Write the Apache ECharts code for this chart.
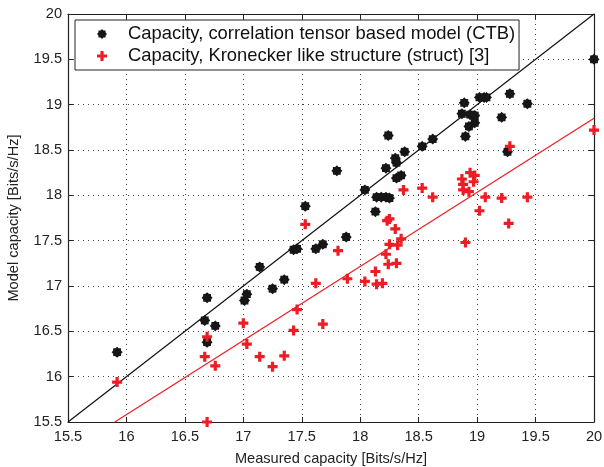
<!DOCTYPE html>
<html>
<head>
<meta charset="utf-8">
<script src="https://cdn.jsdelivr.net/npm/echarts@6/dist/echarts.min.js"></script>
<style>
  html, body { margin: 0; padding: 0; background: #fff; }
  #chart { width: 604px; height: 467px; }
</style>
</head>
<body>
<div id="chart"></div>
<script>
// measured capacity vs model capacity [Bits/s/Hz]
const ctbX = [15.92, 16.69, 16.67, 16.76, 16.69, 17.01, 17.03, 17.14, 17.25, 17.35,
  17.43, 17.46, 17.62, 17.68, 17.53, 17.80, 17.88, 18.04, 18.13, 18.14,
  18.18, 18.22, 18.25, 18.22, 18.30, 18.31, 18.35, 18.31, 18.38, 18.53,
  18.62, 18.89, 19.02, 19.06, 19.08, 19.28, 19.43, 18.87, 18.94, 18.98,
  18.98, 18.93, 18.90, 19.21, 19.26, 20.00, 18.24];
const ctbY = [16.27, 16.87, 16.62, 16.56, 16.38, 16.84, 16.91, 17.21, 16.97, 17.07,
  17.40, 17.41, 17.41, 17.46, 17.88, 18.27, 17.54, 18.06, 17.82, 17.98,
  17.98, 17.98, 17.97, 18.30, 18.41, 18.36, 18.22, 18.19, 18.48, 18.54,
  18.62, 19.02, 19.08, 19.08, 19.08, 19.12, 19.01, 18.90, 18.89, 18.88,
  18.80, 18.76, 18.65, 18.86, 18.48, 19.50, 18.66];

const structX = [15.92, 16.69, 16.69, 16.67, 16.76, 17.00, 17.03, 17.14, 17.25, 17.35,
  17.43, 17.46, 17.53, 17.62, 17.68, 17.81, 17.89, 18.04, 18.13, 18.14,
  18.19, 18.24, 18.31, 18.22, 18.25, 18.32, 18.35, 18.30, 18.23, 18.25,
  18.37, 18.53, 18.62, 18.90, 19.02, 19.27, 19.07, 19.21, 19.43, 18.88,
  18.93, 18.88, 18.97, 18.87, 18.94, 18.98, 19.28, 20.00];
const structY = [15.94, 15.50, 16.44, 16.22, 16.12, 16.59, 16.36, 16.22, 16.11, 16.23,
  16.51, 16.74, 17.68, 17.03, 16.58, 17.39, 17.08, 17.05, 17.16, 17.02,
  17.03, 17.24, 17.25, 17.35, 17.46, 17.45, 17.52, 17.63, 17.72, 17.74,
  18.06, 18.08, 17.98, 17.48, 17.83, 17.69, 17.98, 17.97, 17.98, 18.06,
  18.04, 18.12, 18.15, 18.18, 18.25, 18.22, 18.54, 18.72];

// reference lines: identity and fitted line for struct
const identityLine = [[15.5, 15.5], [20, 20]];
const structFitLine = [[15.9, 15.5], [20, 18.85]];

const axisTicks = [15.5, 16, 16.5, 17, 17.5, 18, 18.5, 19, 19.5, 20];

const legendNames = [
  "Capacity, correlation tensor based model (CTB)",
  "Capacity, Kronecker like structure (struct) [3]"
];

function zip(xs, ys) {
  return xs.map((x, i) => [x, ys[i]]);
}

// asterisk-like blob marker
function starPath() {
  let d = "";
  for (let i = 0; i < 16; i++) {
    const a = i * Math.PI / 8;
    const r = i % 2 ? 3.9 : 5;
    const x = (5 + r * Math.cos(a)).toFixed(2);
    const y = (5 + r * Math.sin(a)).toFixed(2);
    d += (i === 0 ? "M" : "L") + x + "," + y;
  }
  return "path://" + d + "Z";
}
const plusPath = "path://M3.4,0H6.6V3.4H10V6.6H6.6V10H3.4V6.6H0V3.4H3.4Z";

const font = "'Liberation Sans', Arial, sans-serif";
const myChart = echarts.init(document.getElementById("chart"));

function valueAxis(extra) {
  return Object.assign({
    type: "value",
    min: axisTicks[0],
    max: axisTicks[axisTicks.length - 1],
    interval: 0.5,
    axisLine: { show: true, onZero: false, lineStyle: { color: "#222", width: 1.2 } },
    axisTick: { show: true, inside: true, length: 5, lineStyle: { color: "#222" } },
    splitLine: { show: false }
  }, extra);
}

const option = {
  animation: false,
  backgroundColor: "#fff",
  grid: { left: 68, right: 10, top: 14, bottom: 45, show: false, outerBoundsMode: "none" },
  legend: {
    data: legendNames,
    orient: "vertical",
    left: 75,
    top: 20,
    padding: [5, 4, 5, 22],
    itemGap: 4,
    itemWidth: 10,
    itemHeight: 10,
    backgroundColor: "#fff",
    borderColor: "#222",
    borderWidth: 1,
    textStyle: { color: "#111", fontSize: 18.4, fontFamily: font, padding: [0, 0, 0, 16] }
  },
  xAxis: [
    valueAxis({
      position: "bottom",
      name: "Measured capacity [Bits/s/Hz]",
      nameLocation: "middle",
      nameGap: 29,
      nameTextStyle: { color: "#222", fontSize: 14.6, fontFamily: font },
      axisLabel: { color: "#222", fontSize: 14.6, fontFamily: font, margin: 7 },
      splitLine: { show: true, lineStyle: { color: "#444", type: [1, 4], width: 1 } }
    }),
    valueAxis({ position: "top", axisLabel: { show: false } })
  ],
  yAxis: [
    valueAxis({
      position: "left",
      name: "Model capacity [Bits/s/Hz]",
      nameLocation: "middle",
      nameGap: 47,
      nameTextStyle: { color: "#222", fontSize: 14.6, fontFamily: font },
      axisLabel: { color: "#222", fontSize: 14.6, fontFamily: font, margin: 6 },
      splitLine: { show: true, lineStyle: { color: "#444", type: [1, 4], width: 1 } }
    }),
    valueAxis({ position: "right", axisLabel: { show: false } })
  ],
  series: [
    {
      type: "line",
      data: identityLine,
      symbol: "none",
      silent: true,
      lineStyle: { color: "#111", width: 1.2 },
      z: 2
    },
    {
      type: "line",
      data: structFitLine,
      symbol: "none",
      silent: true,
      lineStyle: { color: "#f01c24", width: 1.2 },
      z: 2
    },
    {
      name: legendNames[0],
      type: "scatter",
      data: zip(ctbX, ctbY),
      symbol: starPath(),
      symbolSize: 11,
      itemStyle: { color: "#161616", opacity: 1 },
      z: 3
    },
    {
      name: legendNames[1],
      type: "scatter",
      data: zip(structX, structY),
      symbol: plusPath,
      symbolSize: 10,
      itemStyle: { color: "#ee1c25", opacity: 1 },
      z: 4
    }
  ]
};

myChart.setOption(option);
window.addEventListener("resize", () => myChart.resize());
</script>
</body>
</html>
